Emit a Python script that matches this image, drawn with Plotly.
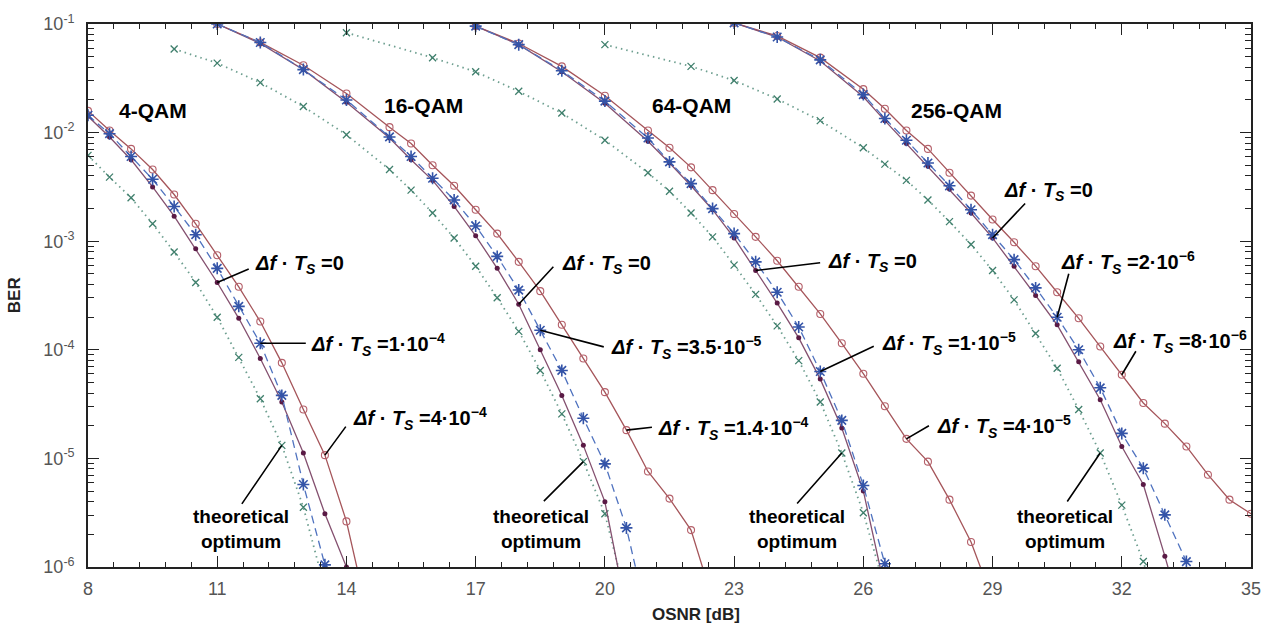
import plotly.graph_objects as go

# ---------------- data (BER given as log10 values) ----------------
# 4-QAM
Q4_X_TH = [8, 8.5, 9, 9.5, 10, 10.5, 11, 11.5, 12, 12.5, 13, 13.5]
Q4_TH = [-2.21, -2.41, -2.60, -2.84, -3.10, -3.38, -3.70, -4.07, -4.45, -4.88, -5.45, -6.2]
Q4_X_D0 = [8, 8.5, 9, 9.5, 10, 10.5, 11, 11.5, 12, 12.5, 13, 13.5, 14]
Q4_D0 = [-1.85, -2.04, -2.25, -2.50, -2.77, -3.07, -3.38, -3.71, -4.08, -4.48, -4.95, -5.51, -6.0]
Q4_X_D1 = [8, 8.5, 9, 9.5, 10, 10.5, 11, 11.5, 12, 12.5, 13, 13.5]
Q4_D1 = [-1.84, -2.01, -2.22, -2.43, -2.68, -2.94, -3.25, -3.60, -3.94, -4.42, -5.24, -5.98]
Q4_X_D2 = [8, 8.5, 9, 9.5, 10, 10.5, 11, 11.5, 12, 12.5, 13, 13.5, 14, 14.5]
Q4_D2 = [-1.80, -1.98, -2.15, -2.34, -2.57, -2.84, -3.13, -3.42, -3.74, -4.12, -4.55, -4.97, -5.58, -6.45]

# 16-QAM
Q16_X_TH = [10, 11, 12, 13, 14, 15, 15.5, 16, 16.5, 17, 17.5, 18, 18.5, 19, 19.5, 20, 20.5]
Q16_TH = [-1.23, -1.36, -1.54, -1.76, -2.02, -2.34, -2.53, -2.74, -2.97, -3.23, -3.52, -3.83, -4.19, -4.59, -5.03, -5.51, -6.3]
Q16_X_D0 = [11, 12, 13, 14, 15, 15.5, 16, 16.5, 17, 17.5, 18, 18.5, 19, 19.5, 20, 20.5]
Q16_D0 = [-1.0, -1.18, -1.42, -1.72, -2.05, -2.25, -2.44, -2.68, -2.95, -3.25, -3.58, -4.0, -4.42, -4.88, -5.40, -6.4]
Q16_X_D1 = [11, 12, 13, 14, 15, 15.5, 16, 16.5, 17, 17.5, 18, 18.5, 19, 19.5, 20, 20.5, 21]
Q16_D1 = [-1.0, -1.17, -1.42, -1.70, -2.04, -2.22, -2.42, -2.62, -2.86, -3.14, -3.45, -3.82, -4.19, -4.63, -5.05, -5.64, -6.5]
Q16_X_D2 = [11, 12, 13, 14, 15, 15.5, 16, 16.5, 17, 17.5, 18, 18.5, 19, 19.5, 20, 20.5, 21, 21.5, 22, 22.5]
Q16_D2 = [-1.0, -1.17, -1.38, -1.64, -1.95, -2.10, -2.30, -2.49, -2.71, -2.93, -3.19, -3.46, -3.77, -4.08, -4.39, -4.74, -5.12, -5.37, -5.66, -6.3]

# 64-QAM
Q64_X_TH = [14, 16, 17, 18, 19, 20, 21, 21.5, 22, 22.5, 23, 23.5, 24, 24.5, 25, 25.5, 26, 26.5]
Q64_TH = [-1.08, -1.31, -1.44, -1.62, -1.82, -2.07, -2.37, -2.54, -2.74, -2.96, -3.22, -3.49, -3.78, -4.10, -4.48, -4.95, -5.5, -6.2]
Q64_X_D0 = [17, 18, 19, 20, 21, 21.5, 22, 22.5, 23, 23.5, 24, 24.5, 25, 25.5, 26, 26.5, 27]
Q64_D0 = [-1.02, -1.19, -1.44, -1.73, -2.08, -2.28, -2.49, -2.71, -2.97, -3.27, -3.57, -3.89, -4.27, -4.72, -5.3, -6.2, -6.9]
Q64_X_D1 = [17, 18, 19, 20, 21, 21.5, 22, 22.5, 23, 23.5, 24, 24.5, 25, 25.5, 26, 26.5, 27]
Q64_D1 = [-1.02, -1.19, -1.43, -1.71, -2.05, -2.27, -2.47, -2.70, -2.93, -3.19, -3.47, -3.79, -4.2, -4.65, -5.25, -5.97, -6.7]
Q64_X_D2 = [17, 18, 19, 20, 21, 21.5, 22, 22.5, 23, 23.5, 24, 24.5, 25, 25.5, 26, 26.5, 27, 27.5, 28, 28.5, 29]
Q64_D2 = [-1.02, -1.18, -1.39, -1.66, -1.98, -2.14, -2.32, -2.53, -2.75, -2.96, -3.18, -3.42, -3.67, -3.94, -4.22, -4.52, -4.82, -5.03, -5.38, -5.77, -6.3]

# 256-QAM
Q256_X_TH = [20, 22, 23, 24, 25, 26, 26.5, 27, 27.5, 28, 28.5, 29, 29.5, 30, 30.5, 31, 31.5, 32, 32.5, 33]
Q256_TH = [-1.19, -1.39, -1.52, -1.69, -1.89, -2.14, -2.29, -2.44, -2.62, -2.82, -3.03, -3.27, -3.54, -3.85, -4.17, -4.55, -4.95, -5.43, -5.95, -6.6]
Q256_X_D0 = [23, 24, 25, 26, 26.5, 27, 27.5, 28, 28.5, 29, 29.5, 30, 30.5, 31, 31.5, 32, 32.5, 33, 33.5]
Q256_D0 = [-0.99, -1.12, -1.34, -1.67, -1.89, -2.10, -2.31, -2.52, -2.74, -2.97, -3.23, -3.50, -3.77, -4.11, -4.46, -4.89, -5.24, -5.90, -6.6]
Q256_X_D1 = [23, 24, 25, 26, 26.5, 27, 27.5, 28, 28.5, 29, 29.5, 30, 30.5, 31, 31.5, 32, 32.5, 33, 33.5, 34]
Q256_D1 = [-0.99, -1.12, -1.33, -1.65, -1.87, -2.07, -2.28, -2.49, -2.71, -2.94, -3.17, -3.43, -3.70, -4.00, -4.35, -4.77, -5.09, -5.52, -5.95, -6.5]
Q256_X_D2 = [23, 24, 25, 26, 26.5, 27, 27.5, 28, 28.5, 29, 29.5, 30, 30.5, 31, 31.5, 32, 32.5, 33, 33.5, 34, 34.5, 35]
Q256_D2 = [-0.99, -1.11, -1.31, -1.60, -1.78, -1.98, -2.15, -2.37, -2.58, -2.80, -3.01, -3.23, -3.47, -3.71, -3.97, -4.23, -4.49, -4.68, -4.89, -5.15, -5.38, -5.51]

X_TICKS = [8, 11, 14, 17, 20, 23, 26, 29, 32, 35]
Y_TICKS = [1e-6, 1e-5, 1e-4, 1e-3, 1e-2, 1e-1]
Y_TICKTEXT = ["10<sup>-6</sup>", "10<sup>-5</sup>", "10<sup>-4</sup>", "10<sup>-3</sup>",
              "10<sup>-2</sup>", "10<sup>-1</sup>"]

# ---------------- styles ----------------
FONT = "Liberation Sans, Arial, sans-serif"
TH_STYLE = dict(line=dict(color="#6e9f90", width=1.8, dash="1.5px,4px"),
                marker=dict(symbol="x-thin-open", size=7, color="#3f7f6c", line=dict(width=1.3, color="#3f7f6c")))
D0_STYLE = dict(line=dict(color="#84506f", width=1.3),
                marker=dict(symbol="circle", size=5, color="#5a1a45"))
D1_STYLE = dict(line=dict(color="#4f72bf", width=1.3, dash="8px,5px"),
                marker=dict(symbol="asterisk-open", size=10, color="#3454a8", line=dict(width=1.6, color="#3454a8")))
D2_STYLE = dict(line=dict(color="#a5555a", width=1.3),
                marker=dict(symbol="circle-open", size=7, color="#b5606a", line=dict(width=1.1, color="#b5606a")))

fig = go.Figure()


def add(xs, ls, style):
    fig.add_trace(go.Scatter(x=xs, y=[10 ** v for v in ls], mode="lines+markers",
                             showlegend=False, hoverinfo="skip", **style))


for xs, ls in [(Q4_X_TH, Q4_TH), (Q16_X_TH, Q16_TH), (Q64_X_TH, Q64_TH), (Q256_X_TH, Q256_TH)]:
    add(xs, ls, TH_STYLE)
for xs, ls in [(Q4_X_D2, Q4_D2), (Q16_X_D2, Q16_D2), (Q64_X_D2, Q64_D2), (Q256_X_D2, Q256_D2)]:
    add(xs, ls, D2_STYLE)
for xs, ls in [(Q4_X_D0, Q4_D0), (Q16_X_D0, Q16_D0), (Q64_X_D0, Q64_D0), (Q256_X_D0, Q256_D0)]:
    add(xs, ls, D0_STYLE)
for xs, ls in [(Q4_X_D1, Q4_D1), (Q16_X_D1, Q16_D1), (Q64_X_D1, Q64_D1), (Q256_X_D1, Q256_D1)]:
    add(xs, ls, D1_STYLE)


def df(val):
    return "<b><i>Δf</i> · <i>T</i><sub><i>S</i></sub> =" + val + "</b>"


# (x-array, y-array, index, text, text dx, text dy, anchor, tail dx, tail dy)   dy: screen px, down positive
LABELS = [
    (Q4_X_D0, Q4_D0, 6, df("0"), 36, -18, "left", 33, -14),
    (Q4_X_D1, Q4_D1, 8, df("1·10<sup>−4</sup>"), 49, 1, "left", 47, 0),
    (Q4_X_D2, Q4_D2, 11, df("4·10<sup>−4</sup>"), 26, -37, "left", 22, -30),
    (Q4_X_TH, Q4_TH, 9, "<b>theoretical<br>optimum</b>", -41, 84, "center", -41, 60),
    (Q16_X_D0, Q16_D0, 10, df("0"), 41, -40, "left", 36, -39),
    (Q16_X_D1, Q16_D1, 11, df("3.5·10<sup>−5</sup>"), 69, 17, "left", 65, 17),
    (Q16_X_D2, Q16_D2, 15, df("1.4·10<sup>−4</sup>"), 30, -2, "left", 27, -3),
    (Q16_X_TH, Q16_TH, 14, "<b>theoretical<br>optimum</b>", -42, 67, "center", -41, 41),
    (Q64_X_D0, Q64_D0, 9, df("0"), 70, -8, "left", 66, -8),
    (Q64_X_D1, Q64_D1, 12, df("1·10<sup>−5</sup>"), 60, -28, "left", 55, -26),
    (Q64_X_D2, Q64_D2, 16, df("4·10<sup>−5</sup>"), 29, -12, "left", 24, -14),
    (Q64_X_TH, Q64_TH, 15, "<b>theoretical<br>optimum</b>", -45, 76, "center", -46, 52),
    (Q256_X_D0, Q256_D0, 9, df("0"), 9, -46, "left", 34, -36),
    (Q256_X_D1, Q256_D1, 12, df("2·10<sup>−6</sup>"), 2, -55, "left", 12, -45),
    (Q256_X_D2, Q256_D2, 15, df("8·10<sup>−6</sup>"), -11, -33, "left", 15, -25),
    (Q256_X_TH, Q256_TH, 16, "<b>theoretical<br>optimum</b>", -35, 76, "center", -34, 50),
]

annotations = []
for xs, ls, i, txt, tdx, tdy, anc, adx, ady in LABELS:
    size = 19 if txt.startswith("<b>theo") else 20
    annotations.append(dict(x=xs[i], y=ls[i], xref="x", yref="y", text=txt, showarrow=False,
                            xshift=tdx, yshift=-tdy, xanchor=anc, yanchor="middle",
                            font=dict(family=FONT, size=size, color="black")))
    annotations.append(dict(x=xs[i], y=ls[i], xref="x", yref="y", text="", showarrow=True,
                            ax=adx, ay=ady, arrowhead=0, arrowwidth=1.6, arrowcolor="black"))

# group labels (position given in axis units, y in log10)
for txt, gx, gy in [("4-QAM", 9.5, -1.80), ("16-QAM", 15.8, -1.755), ("64-QAM", 22.0, -1.755), ("256-QAM", 28.17, -1.80)]:
    annotations.append(dict(x=gx, y=gy, xref="x", yref="y", text="<b>" + txt + "</b>", showarrow=False,
                            font=dict(family=FONT, size=21, color="black"), xanchor="center", yanchor="middle"))

# axis titles
annotations.append(dict(x=0.523, y=-0.066, xref="paper", yref="paper", text="<b>OSNR [dB]</b>", showarrow=False,
                        font=dict(family=FONT, size=17, color="#222"), yanchor="top"))
annotations.append(dict(x=-0.063, y=0.5, xref="paper", yref="paper", text="<b>BER</b>", showarrow=False,
                        textangle=-90, font=dict(family=FONT, size=17, color="#222"), xanchor="center"))

# ellipses around the reference points (x in dB, y in log10)
shapes = []
for x0, x1, y0, y1 in [(8.67, 9.27, -2.79, -1.94), (15.2, 15.8, -2.74, -1.88),
                       (21.24, 21.75, -2.74, -1.88), (27.26, 27.82, -2.79, -1.98)]:
    shapes.append(dict(type="circle", xref="x", yref="y", x0=x0, x1=x1, y0=y0, y1=y1,
                       line=dict(color="black", width=2.2)))

minor_y = [k * 10.0 ** e for e in range(-6, -1) for k in range(2, 10)]
minor_x = [8 + 0.6 * i for i in range(46)]

fig.update_layout(
    width=1273, height=631,
    margin=dict(l=88, r=15, t=24, b=64),
    paper_bgcolor="white", plot_bgcolor="white",
    font=dict(family=FONT, color="#444"),
    annotations=annotations, shapes=shapes,
    xaxis=dict(range=[8, 35], tickmode="array", tickvals=X_TICKS, showgrid=False, zeroline=False,
               ticks="inside", ticklen=11, tickwidth=1.3, tickcolor="#222",
               showline=True, linecolor="#222", linewidth=1.6, mirror="allticks",
               ticklabelstandoff=5,
               tickfont=dict(family=FONT, size=18, color="#555"),
               minor=dict(tickmode="array", tickvals=minor_x, ticks="inside", ticklen=5, tickcolor="#222", tickwidth=1.2)),
    yaxis=dict(type="log", range=[-6, -1], tickmode="array", tickvals=Y_TICKS, ticktext=Y_TICKTEXT,
               showgrid=False, zeroline=False,
               ticks="inside", ticklen=11, tickwidth=1.3, tickcolor="#222",
               showline=True, linecolor="#222", linewidth=1.6, mirror="allticks",
               ticklabelstandoff=8,
               tickfont=dict(family=FONT, size=18, color="#555"),
               minor=dict(tickmode="array", tickvals=minor_y, ticks="inside", ticklen=6, tickcolor="#222", tickwidth=1.2)),
)

fig.write_html("out.html")
